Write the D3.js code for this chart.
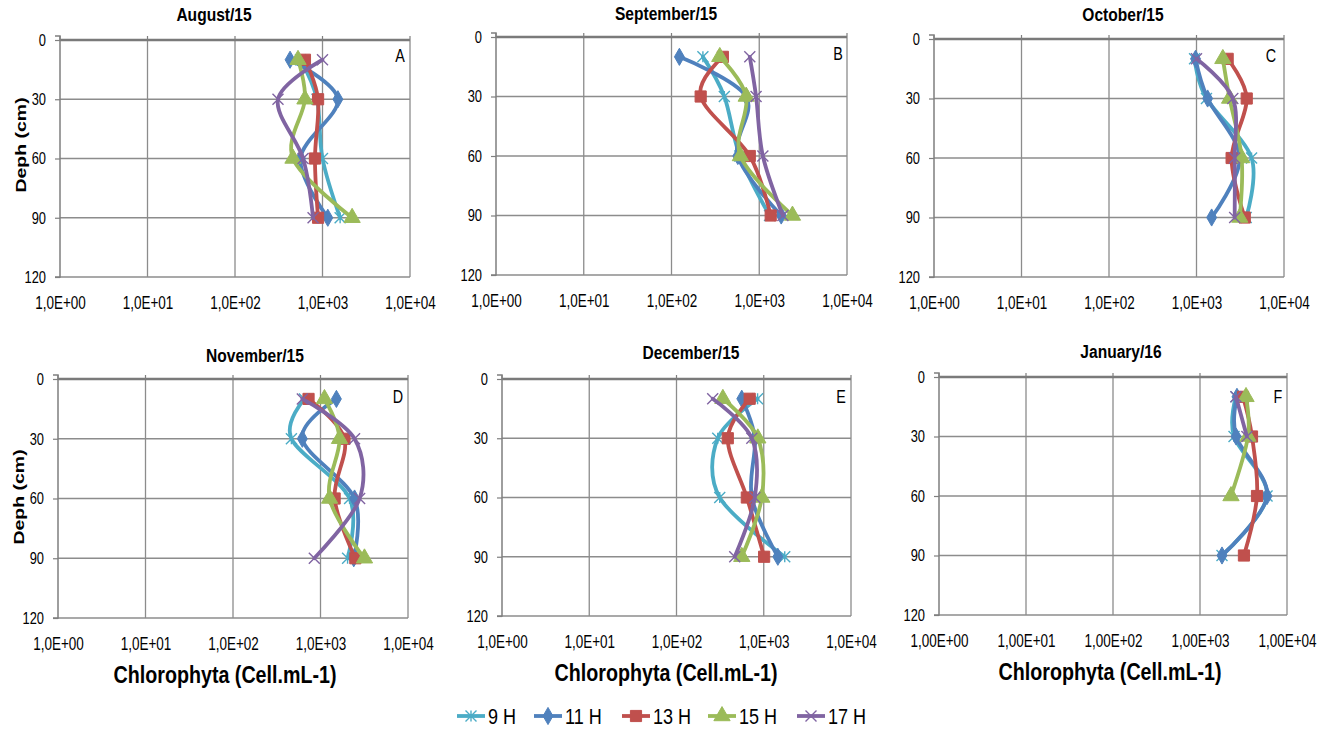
<!DOCTYPE html>
<html>
<head>
<meta charset="utf-8">
<script src="https://cdn.jsdelivr.net/npm/d3@7"></script>
<style>
  html, body { margin: 0; padding: 0; background: #fff; }
  svg { display: block; }
  text { font-family: "Liberation Sans", Arial, sans-serif; fill: #000; }
</style>
</head>
<body>
<svg id="chart" width="1332" height="732"></svg>
<script>
// ---------------- DATA ----------------
const depths = [10, 30, 60, 90];
const seriesNames = ["9 H", "11 H", "13 H", "15 H", "17 H"];
const seriesColors = ["#4BACC6", "#4F81BD", "#C0504D", "#9BBB59", "#8064A2"];
const depthTicks = [0, 30, 60, 90, 120];
const xTicks = [1, 10, 100, 1000, 10000];
const xTickLabels = ["1,0E+00", "1,0E+01", "1,0E+02", "1,0E+03", "1,0E+04"];
const xTickLabelsJan = ["1,00E+00", "1,00E+01", "1,00E+02", "1,00E+03", "1,00E+04"];
const panelTitles = ["August/15", "September/15", "October/15", "November/15", "December/15", "January/16"];
const panelLetters = ["A", "B", "C", "D", "E", "F"];
const yTitle = "Deph (cm)";
const xTitle = "Chlorophyta (Cell.mL-1)";

// rows: 9H, 11H, 13H, 15H, 17H ; columns: depth 10, 30, 60, 90
const august    = [[560, 865, 1000, 1590], [426, 1500, 560, 1150], [630, 890, 820, 890], [525, 630, 460, 2180], [1000, 310, 600, 780]];
const september = [[228, 400, 600, 1310], [123, 710, 570, 1780], [385, 215, 780, 1350], [355, 710, 610, 2390], [780, 920, 1100, 1860]];
const october   = [[950, 1300, 4260, 3700], [975, 1340, 3120, 1490], [2270, 3750, 2520, 3560], [2000, 2390, 3280, 3120], [1000, 2600, 2730, 2730]];
const november  = [[655, 465, 2150, 2040], [1520, 620, 2450, 2400], [730, 1880, 1450, 2500], [1110, 1650, 1270, 3180], [620, 2450, 2800, 850]];
const december  = [[850, 297, 313, 1740], [560, 790, 730, 1450], [690, 387, 640, 1010], [340, 855, 950, 560], [260, 730, 790, 465]];
const january   = [[2590, 2460, 5900, 1790], [2660, 2600, 5900, 1790], [3120, 3960, 4520, 3200], [3380, 3560, 2270, null], [2590, 3460, null, null]];

const panelData = [august, september, october, november, december, january];

// ---------------- LAYOUT ----------------
const SX = 0.82;      // horizontal squeeze of the reference lettering
const SXT = 0.77;     // squeeze for tick labels
const panels = [
  { x0: 60,  x1: 410,  y0: 40,  y1: 277, yt: 145,  xt: null, tx: 214,  ty: 21,  lx: 400,  ly: 62 },
  { x0: 496, x1: 847,  y0: 37,  y1: 275, yt: null, xt: null, tx: 666,  ty: 20,  lx: 838,  ly: 60 },
  { x0: 934, x1: 1284, y0: 39,  y1: 277, yt: null, xt: null, tx: 1123, ty: 21,  lx: 1271, ly: 62 },
  { x0: 58,  x1: 408,  y0: 379, y1: 618, yt: 497,  xt: 225,  tx: 255,  ty: 362, lx: 398,  ly: 403 },
  { x0: 502, x1: 851,  y0: 379, y1: 616, yt: null, xt: 666,  tx: 691,  ty: 359, lx: 841,  ly: 403 },
  { x0: 939, x1: 1287, y0: 377, y1: 615, yt: null, xt: 1110, tx: 1121, ty: 358, lx: 1278, ly: 403 }
];

const svg = d3.select("#chart");
const gridColor = "#8c8c8c";

function txt(g, x, y, str, size, weight, anchor) {
  return g.append("text")
    .attr("transform", `translate(${x},${y}) scale(${SX},1)`)
    .attr("text-anchor", anchor || "middle")
    .attr("font-size", size)
    .attr("font-weight", weight || "normal")
    .text(str);
}

// marker shapes
function markerPath(i) {
  const r = 5.5;
  if (i === 0) return `M0,${-r}L0,${r}M${-r},${-r}L${r},${r}M${-r},${r}L${r},${-r}`;
  if (i === 1) return d3.symbol(d3.symbolDiamond, 85)();
  if (i === 2) return d3.symbol(d3.symbolSquare, 125)();
  if (i === 3) return d3.symbol(d3.symbolTriangle, 115)();
  return `M${-r},${-r}L${r},${r}M${-r},${r}L${r},${-r}`;
}
function drawMarker(g, i, x, y) {
  const filled = (i === 1 || i === 2 || i === 3);
  g.append("path")
    .attr("d", markerPath(i))
    .attr("transform", `translate(${x},${y})`)
    .attr("fill", filled ? seriesColors[i] : "none")
    .attr("stroke", seriesColors[i])
    .attr("stroke-width", filled ? 1 : 1.4);
}

panels.forEach((p, pi) => {
  const g = svg.append("g");
  const x = d3.scaleLog().domain([1, 10000]).range([p.x0, p.x1]);
  const y = d3.scaleLinear().domain([0, 120]).range([p.y0, p.y1]);

  // vertical gridlines
  g.selectAll(".vg").data(xTicks.slice(1)).join("line")
    .attr("x1", d => x(d)).attr("x2", d => x(d))
    .attr("y1", p.y0).attr("y2", p.y1)
    .attr("stroke", gridColor).attr("stroke-width", 1.3);
  // horizontal gridlines
  g.selectAll(".hg").data(depthTicks.slice(1)).join("line")
    .attr("x1", p.x0).attr("x2", p.x1)
    .attr("y1", d => y(d)).attr("y2", d => y(d))
    .attr("stroke", gridColor).attr("stroke-width", 1.3);

  // top axis line (category axis at depth 0)
  g.append("line")
    .attr("x1", p.x0).attr("x2", p.x1)
    .attr("y1", y(0)).attr("y2", y(0))
    .attr("stroke", "#7a7a7a").attr("stroke-width", 2.6);
  g.selectAll(".tt").data(xTicks).join("line")
    .attr("x1", d => x(d)).attr("x2", d => x(d))
    .attr("y1", y(0)).attr("y2", y(0) - 4)
    .attr("stroke", "#7f7f7f").attr("stroke-width", 1.2);

  // left axis
  const yAxis = d3.axisLeft(y).tickValues(depthTicks).tickSize(5).tickPadding(8);
  const ya = g.append("g").attr("transform", `translate(${p.x0},0)`).call(yAxis);
  ya.select(".domain").attr("stroke", "#7f7f7f").attr("stroke-width", 1.5)
    .attr("d", `M-5,${p.y0 - 4}H0V${p.y1}H-5`);
  ya.selectAll(".tick line").attr("stroke", "#7f7f7f").attr("stroke-width", 1.2);
  ya.selectAll(".tick text").attr("font-size", 16.5).attr("fill", "#000")
    .attr("font-family", '"Liberation Sans", Arial, sans-serif')
    .attr("x", -14 / 0.78).attr("transform", `scale(0.78,1)`);

  // bottom tick labels
  const labels = pi === 5 ? xTickLabelsJan : xTickLabels;
  const xAxis = d3.axisBottom(x).tickValues(xTicks).tickSize(0).tickPadding(20)
    .tickFormat((d, i) => labels[i]);
  const xa = g.append("g").attr("transform", `translate(0,${p.y1})`).call(xAxis);
  xa.select(".domain").remove();
  xa.selectAll(".tick text").attr("font-size", 17.5).attr("fill", "#000")
    .attr("font-family", '"Liberation Sans", Arial, sans-serif')
    .attr("transform", `scale(${SXT},1)`);

  // title and letter
  txt(g, p.tx, p.ty, panelTitles[pi], 19, "bold");
  txt(g, p.lx, p.ly, panelLetters[pi], 17.5);

  if (p.yt != null) {
    g.append("text")
      .attr("transform", `translate(${p.x0 - 34},${p.yt}) rotate(-90) scale(1,0.78)`)
      .attr("text-anchor", "middle")
      .attr("font-weight", "bold").attr("font-size", 19.5).text(yTitle);
  }
  if (p.xt != null) {
    txt(g, p.xt, p.y1 + 65, xTitle, 24, "bold");
  }

  // series
  const line = d3.line()
    .defined(d => d[0] != null)
    .x(d => x(d[0])).y(d => y(d[1]))
    .curve(d3.curveCatmullRom.alpha(0));
  panelData[pi].forEach((vals, si) => {
    const pts = vals.map((v, k) => [v, depths[k]]);
    const sg = g.append("g");
    sg.append("path").attr("d", line(pts))
      .attr("fill", "none").attr("stroke", seriesColors[si])
      .attr("stroke-width", 3.8).attr("stroke-linejoin", "round").attr("stroke-linecap", "round");
    pts.filter(d => d[0] != null).forEach(d => drawMarker(sg, si, x(d[0]), y(d[1])));
  });
});

// ---------------- LEGEND ----------------
const legendX = [457, 534, 622, 708, 797];
const lg = svg.append("g");
seriesNames.forEach((name, i) => {
  const lx = legendX[i], ly = 716;
  lg.append("line").attr("x1", lx).attr("x2", lx + 28).attr("y1", ly).attr("y2", ly)
    .attr("stroke", seriesColors[i]).attr("stroke-width", 3.8);
  drawMarker(lg, i, lx + 14, ly);
  txt(lg, lx + 31, ly + 8, name, 22, "normal", "start");
});
</script>
</body>
</html>
